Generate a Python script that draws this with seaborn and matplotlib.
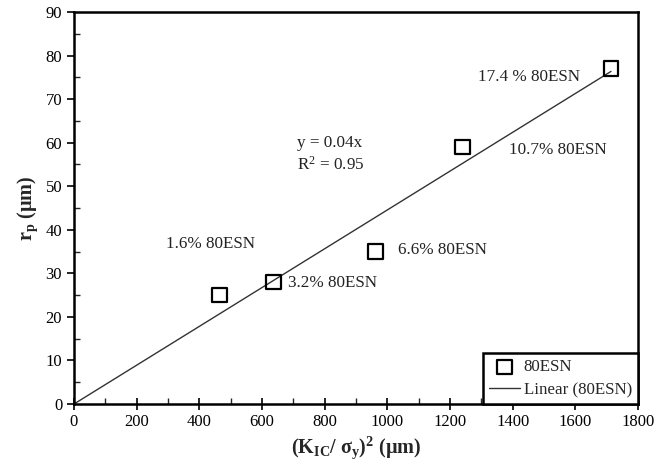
import numpy as np
import pandas as pd
import matplotlib
matplotlib.use("Agg")
import matplotlib.pyplot as plt
import seaborn as sns
from matplotlib.ticker import MultipleLocator

# data
x_vals = [464, 636, 962, 1240, 1714]
y_vals = [25, 28, 35, 59, 77]
point_labels = ["1.6% 80ESN", "3.2% 80ESN", "6.6% 80ESN", "10.7% 80ESN", "17.4 % 80ESN"]
label_x = [294, 684, 1033, 1387, 1288]
label_y = [36.7, 27.8, 35.4, 58.3, 75.1]
eq_text = ["y = 0.04x", "R$^2$ = 0.95"]
eq_x = [713, 713]
eq_y = [59.9, 54.9]

sns.set_theme(style="white")
plt.rcParams["font.family"] = ["Liberation Serif", "DejaVu Serif"]
plt.rcParams["mathtext.fontset"] = "custom"
plt.rcParams["mathtext.rm"] = "Liberation Serif"
plt.rcParams["mathtext.it"] = "Liberation Serif:italic"
plt.rcParams["mathtext.bf"] = "Liberation Serif:bold"

df = pd.DataFrame({"x": x_vals, "y": y_vals})
xa = np.array(x_vals, float)
ya = np.array(y_vals, float)
slope = (xa * ya).sum() / (xa * xa).sum()
fit = pd.DataFrame({"x": [0, xa.max()], "y": [0, slope * xa.max()]})

fig = plt.figure(figsize=(6.57, 4.70), dpi=100)
ax = fig.add_axes([0.1126, 0.1404, 0.971 - 0.1126, 0.9745 - 0.1404])

sns.scatterplot(data=df, x="x", y="y", ax=ax, marker="s", s=110,
                facecolors="none", edgecolor="black", linewidth=1.6,
                label="80ESN", zorder=3)
sns.lineplot(data=fit, x="x", y="y", ax=ax, color="#333333", linewidth=1.0,
             label="Linear (80ESN)", zorder=2)

for t, lx, ly in zip(point_labels, label_x, label_y):
    ax.text(lx, ly, t, fontsize=12.3, ha="left", va="center", color="#222222")
for t, lx, ly in zip(eq_text, eq_x, eq_y):
    ax.text(lx, ly, t, fontsize=12.3, ha="left", va="center", color="#222222")

ax.set_xlim(0, 1800)
ax.set_ylim(0, 90)
ax.xaxis.set_major_locator(MultipleLocator(200))
ax.xaxis.set_minor_locator(MultipleLocator(100))
ax.yaxis.set_major_locator(MultipleLocator(10))
ax.yaxis.set_minor_locator(MultipleLocator(5))
ax.tick_params(axis="x", which="major", direction="inout", length=8, width=1.2,
               labelsize=12, colors="black", bottom=True)
ax.tick_params(axis="x", which="minor", direction="in", length=4, width=1.0, bottom=True)
ax.tick_params(axis="y", which="major", direction="out", length=5, width=1.2,
               labelsize=12, colors="black", left=True)
ax.tick_params(axis="y", which="minor", direction="in", length=4, width=1.0, left=True)

for side, sp in ax.spines.items():
    sp.set_color("black")
    sp.set_linewidth(1.8)

ax.set_xlabel(r"(K$\mathbf{_{IC}}$/ $\mathbf{σ_y}$)$\mathbf{^2}$ (µm)", fontsize=14.5,
              fontweight="bold", labelpad=3)
ax.set_ylabel(r"r$\mathbf{_p}$ (µm)", fontsize=14.5, fontweight="bold", labelpad=4)

leg = ax.legend(loc="lower right", borderaxespad=0, fontsize=12.2, frameon=True,
                fancybox=False, edgecolor="black", handlelength=1.8,
                borderpad=0.35, labelspacing=0.4, handletextpad=0.25)
leg.get_frame().set_linewidth(1.8)
leg.get_frame().set_alpha(1)

fig.savefig("out.png", dpi=100)
